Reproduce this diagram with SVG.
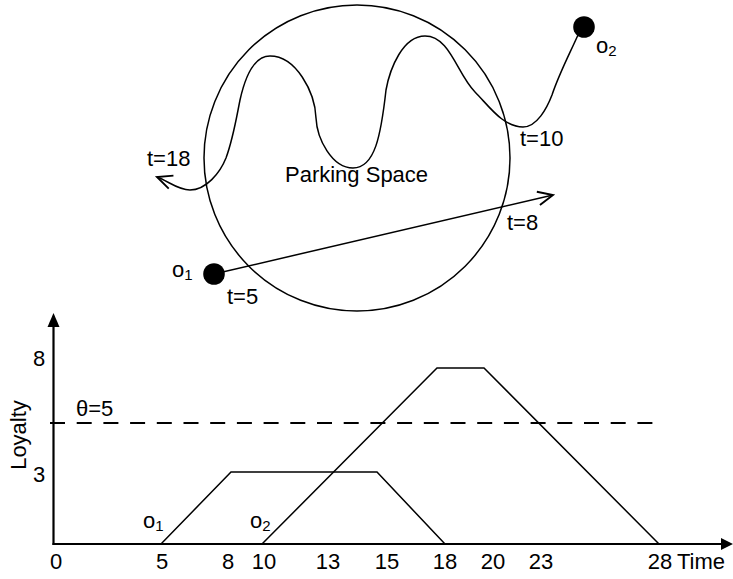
<svg xmlns="http://www.w3.org/2000/svg" width="733" height="579" viewBox="0 0 733 579">
<style>
text{font-family:"Liberation Sans",Arial,sans-serif;font-size:22px;fill:#000}
.sub{font-size:15px}
.thin{fill:none;stroke:#000;stroke-width:1.5}
.axis{fill:none;stroke:#000;stroke-width:2.2}
</style>
<defs>
<marker id="open" markerUnits="userSpaceOnUse" markerWidth="20" markerHeight="20" viewBox="-14 -8 16 16" refX="0" refY="0" orient="auto">
<path d="M-12,-5.5 L0,0 L-12,5.5" fill="none" stroke="#000" stroke-width="1.5"/>
</marker>
</defs>
<rect width="733" height="579" fill="#fff"/>
<g id="parking-space">
<circle cx="357" cy="158" r="153" class="thin" stroke-width="1.4"/>
<text x="285" y="182">Parking Space</text>
</g>
<g id="connectors">
<path class="thin" marker-end="url(#open)" d="M578,35 C569,55 559,74 552,95 C547,108 537,127 523,127 C503,127 489,106 475,92 C457,74 450,36 425,36 C403,36 390,68 386,90 C381,135 375,168 353,168 C332,168 317,139 316,118 C315,92 296,56 270,56 C252,56 244,82 240,100 C236,120 233,139 226,158 C220,173 206,190 190,190 C178,190 168,181 157,177"/>
<path class="thin" marker-end="url(#open)" d="M214,274 L553,195"/>
</g>
<g id="o1">
<circle cx="214" cy="274" r="10.8" fill="#000"/>
<text x="172" y="277">o<tspan class="sub" dy="3">1</tspan></text>
</g>
<g id="o2">
<circle cx="584" cy="27" r="10.8" fill="#000"/>
<text x="596" y="53">o<tspan class="sub" dy="3">2</tspan></text>
</g>
<g id="time-labels-top">
<text x="147" y="166">t=18</text>
<text x="520" y="146">t=10</text>
<text x="507" y="230">t=8</text>
<text x="227" y="304">t=5</text>
</g>
<g id="chart">
<line class="axis" x1="53.5" y1="545" x2="53.5" y2="326"/>
<path d="M53.5,313 L47.5,327 L59.5,327 Z" fill="#000"/>
<line class="axis" x1="52.5" y1="544" x2="722" y2="544"/>
<path d="M733,544 L721,538 L721,550 Z" fill="#000"/>
<line x1="50" y1="423" x2="664" y2="423" stroke="#000" stroke-width="2" stroke-dasharray="15 11.7"/>
<polyline class="thin" points="161,544 231,472 377,472 445,544"/>
<polyline class="thin" points="262,544 437,368 484,368 659,544"/>
<text x="143" y="528">o<tspan class="sub" dy="3">1</tspan></text>
<text x="250" y="528">o<tspan class="sub" dy="3">2</tspan></text>
<text x="76" y="416">θ=5</text>
<g text-anchor="middle">
<text x="39" y="366">8</text>
<text x="39" y="482">3</text>
<text transform="translate(26,435) rotate(-90)">Loyalty</text>
<text x="56" y="569">0</text>
<text x="162" y="569">5</text>
<text x="228" y="569">8</text>
<text x="264" y="569">10</text>
<text x="328" y="569">13</text>
<text x="387" y="569">15</text>
<text x="445" y="569">18</text>
<text x="493" y="569">20</text>
<text x="541" y="569">23</text>
<text x="660" y="569">28</text>
</g>
<text x="677" y="569">Time</text>
</g>
</svg>
